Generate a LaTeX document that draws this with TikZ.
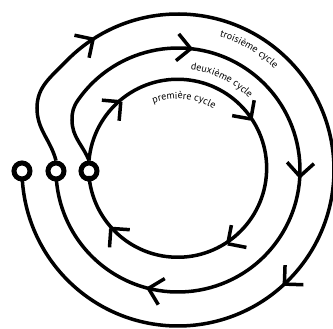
\documentclass[tikz,border=0pt]{standalone}
\usepackage{fontspec}
\newfontfamily\cyclefont{PT Sans}
\usetikzlibrary{decorations.text}

\begin{document}
\begin{tikzpicture}[x=1pt,y=1pt,
  ring/.style={line width=3.5pt},
  chev/.style={line width=3.5pt},
  port/.style={circle,draw,line width=5pt,fill=white,minimum size=16pt,inner sep=0pt},
  lbl/.style={decorate,decoration={text along path,text align=center,text={|\cyclefont\fontsize{10}{11}\selectfont|#1}}}]
  \useasboundingbox (-178,-159) rectangle (155,170);
  % small circles
  \node[port] (c1) at (-156,-1) {};
  \node[port] (c2) at (-122,-1) {};
  \node[port] (c3) at (-89,-1) {};
  % cycles
  \draw[ring] (c3.north) arc[start angle=175,end angle=-175,radius=89] -- (c3.south);
  \draw[ring] (c3.north) to[out=112,in=-90] (-106,50) to[out=90,in=235] (145:122)
    arc[start angle=145,end angle=-176.5,radius=122] -- (c2.south);
  \draw[ring] (c2.north) to[out=105,in=-90] (-141,62) to[out=90,in=226] (136:156)
    arc[start angle=136,end angle=-177.3,radius=156] -- (c1.south);
  % arrows
  \foreach \r/\a in {89/130,89/35,89/-56,89/221,122/84,122/-3,122/256,156/123,156/-47}{
    \draw[chev] (\a:\r) -- ++(\a+45:19) (\a:\r) -- ++(\a+135:19);
  }
  % labels
  \path[lbl={première cycle}] (125:71) arc[start angle=125,end angle=45,radius=71];
  \path[lbl={deuxième cycle}] (98:101) arc[start angle=98,end angle=30,radius=101];
  \path[lbl={troisième cycle}] (88:140) arc[start angle=88,end angle=31,radius=140];
\end{tikzpicture}
\end{document}
